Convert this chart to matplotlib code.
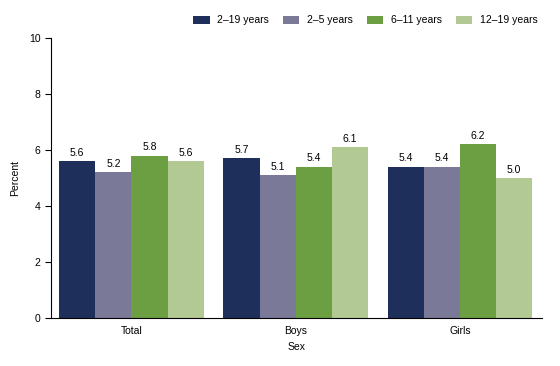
import matplotlib.pyplot as plt
import numpy as np

plt.rcParams['font.family'] = ['Liberation Sans', 'DejaVu Sans']

groups = ['Total', 'Boys', 'Girls']
series = ['2\u201319 years', '2\u20135 years', '6\u201311 years', '12\u201319 years']
values = [
    [5.6, 5.7, 5.4],
    [5.2, 5.1, 5.4],
    [5.8, 5.4, 6.2],
    [5.6, 6.1, 5.0],
]
colors = ['#1d2f5a', '#7a7a98', '#6c9f42', '#b3c994']

fig = plt.figure(figsize=(5.6, 3.66), dpi=100)
ax = fig.add_axes([0.091, 0.131, 0.877, 0.765])

x = np.arange(len(groups))
w = 0.22
for i, (name, vals) in enumerate(zip(series, values)):
    pos = x + (i - 1.5) * w
    bars = ax.bar(pos, vals, w, color=colors[i], label=name)
    for b, v in zip(bars, vals):
        ax.text(b.get_x() + b.get_width() / 2, v + 0.12, f'{v:.1f}',
                ha='center', va='bottom', fontsize=7.5)

ax.set_xlim(-0.49, 2.5)
ax.set_ylim(0, 10)
ax.set_yticks([0, 2, 4, 6, 8, 10])
ax.set_xticks(x)
ax.set_xticklabels(groups)
ax.tick_params(axis='y', labelsize=7.5, length=4, width=0.8)
ax.tick_params(axis='x', labelsize=7.5, length=0, pad=6)
ax.spines['top'].set_visible(False)
ax.spines['right'].set_visible(False)
ax.set_ylabel('Percent', fontsize=7.5, labelpad=6)
ax.set_xlabel('Sex', fontsize=7.5, labelpad=4)

ax.legend(loc='lower right', bbox_to_anchor=(1.0, 1.03), ncol=4, frameon=False,
          fontsize=7.5, handlelength=1.55, handleheight=0.8, columnspacing=1.35,
          handletextpad=0.75, borderaxespad=0)

fig.savefig('out.png', dpi=100)
